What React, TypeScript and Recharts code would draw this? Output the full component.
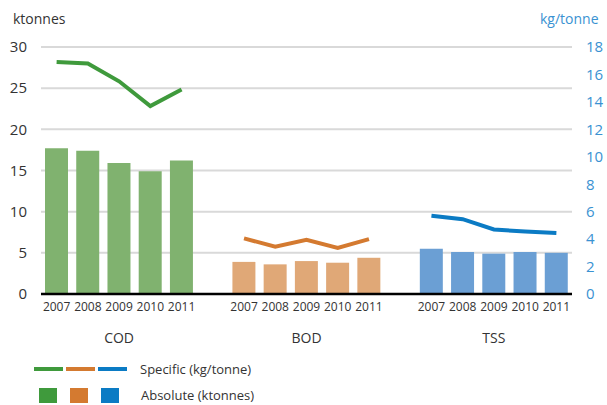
import React from "react";
import {
  ComposedChart,
  Bar,
  Line,
  Cell,
  XAxis,
  YAxis,
  CartesianGrid,
} from "recharts";

const years = ["2007", "2008", "2009", "2010", "2011"];
const groups = ["COD", "BOD", "TSS"];

// absolute emissions, ktonnes
const absCOD = [17.7, 17.4, 15.9, 14.9, 16.2];
const absBOD = [3.9, 3.6, 4.0, 3.8, 4.4];
const absTSS = [5.5, 5.1, 4.9, 5.1, 5.0];

// specific emissions, kg/tonne
const specCOD = [16.9, 16.8, 15.5, 13.7, 14.9];
const specBOD = [4.05, 3.45, 3.95, 3.35, 4.0];
const specTSS = [5.7, 5.45, 4.7, 4.55, 4.45];

const leftTicks = [0, 5, 10, 15, 20, 25, 30];
const rightTicks = [0, 2, 4, 6, 8, 10, 12, 14, 16, 18];

const barColors: Record<string, string> = { COD: "#80b26f", BOD: "#e0a877", TSS: "#6b9fd4" };
const lineColors: Record<string, string> = { COD: "#3f9a3c", BOD: "#d47a30", TSS: "#0b7bc4" };
const legendColors = ["#3f9a3c", "#d47a30", "#0b7bc4"];

const absByGroup: Record<string, number[]> = { COD: absCOD, BOD: absBOD, TSS: absTSS };
const specByGroup: Record<string, number[]> = { COD: specCOD, BOD: specBOD, TSS: specTSS };

type Row = { key: string; year?: string; group?: string; abs?: number; [k: string]: any };

const data: Row[] = [];
groups.forEach((g, gi) => {
  if (gi > 0) data.push({ key: "gap" + gi });
  years.forEach((y, i) => {
    data.push({ key: g + "-" + y, year: y, group: g, abs: absByGroup[g][i], [g]: specByGroup[g][i] });
  });
});

const lookup: Record<string, Row> = {};
data.forEach((d) => (lookup[d.key] = d));

const font = "'Open Sans', 'DejaVu Sans', sans-serif";
const dark = "#333333";
const blue = "#3a92d2";

const YearTick = (props: any) => {
  const { x, y, payload } = props;
  const d = lookup[payload.value];
  if (!d || !d.year) return <g />;
  return (
    <g>
      <text x={x} y={y + 9} textAnchor="middle" fontSize={12} fill={dark} fontFamily={font}>
        {d.year}
      </text>
      {d.year === "2009" && (
        <text x={x} y={y + 41} textAnchor="middle" fontSize={14} fill={dark} fontFamily={font}>
          {d.group}
        </text>
      )}
    </g>
  );
};

export default function App() {
  return (
    <div style={{ position: "absolute", left: 0, top: 0, width: 607, height: 405, background: "#fff", fontFamily: font }}>
      <div style={{ position: "absolute", left: 13, top: 9, fontSize: 14, color: dark }}>ktonnes</div>
      <div style={{ position: "absolute", left: 540, top: 9, fontSize: 14, color: blue }}>kg/tonne</div>
      <ComposedChart
        width={607}
        height={405}
        data={data}
        margin={{ top: 47, right: 0, left: 0, bottom: 0 }}
        barCategoryGap={4}
      >
        <CartesianGrid yAxisId="left" vertical={false} stroke="#d9d9d9" strokeWidth={2} />
        <XAxis
          dataKey="key"
          interval={0}
          tickLine={false}
          axisLine={{ stroke: "#000", strokeWidth: 2.5 }}
          height={111}
          tick={<YearTick />}
        />
        <YAxis
          yAxisId="left"
          domain={[0, 30]}
          ticks={leftTicks}
          width={41}
          axisLine={false}
          tickLine={false}
          tickMargin={8}
          tick={{ fontSize: 15, fill: dark, fontFamily: font }}
        />
        <YAxis
          yAxisId="right"
          orientation="right"
          domain={[0, 18]}
          ticks={rightTicks}
          width={35}
          axisLine={false}
          tickLine={false}
          tickMargin={8}
          tick={{ fontSize: 15, fill: blue, fontFamily: font }}
        />
        <Bar yAxisId="left" dataKey="abs" isAnimationActive={false}>
          {data.map((d) => (
            <Cell key={d.key} fill={d.group ? barColors[d.group] : "none"} />
          ))}
        </Bar>
        {groups.map((g) => (
          <Line
            key={g}
            yAxisId="right"
            type="linear"
            dataKey={g}
            stroke={lineColors[g]}
            strokeWidth={4}
            dot={false}
            activeDot={false}
            connectNulls={false}
            isAnimationActive={false}
          />
        ))}
      </ComposedChart>
      <div style={{ position: "absolute", left: 34, top: 357, display: "flex", alignItems: "center" }}>
        {legendColors.map((c, i) => (
          <div key={i} style={{ width: 29, height: 4, background: c, marginRight: 3 }} />
        ))}
        <span style={{ marginLeft: 10, fontSize: 13, color: dark, lineHeight: "24px" }}>Specific (kg/tonne)</span>
      </div>
      <div style={{ position: "absolute", left: 39, top: 385, display: "flex", alignItems: "center" }}>
        {legendColors.map((c, i) => (
          <div key={i} style={{ width: 18, height: 15, background: c, marginRight: 13 }} />
        ))}
        <span style={{ marginLeft: 9, fontSize: 13, color: dark, lineHeight: "20px" }}>Absolute (ktonnes)</span>
      </div>
    </div>
  );
}
